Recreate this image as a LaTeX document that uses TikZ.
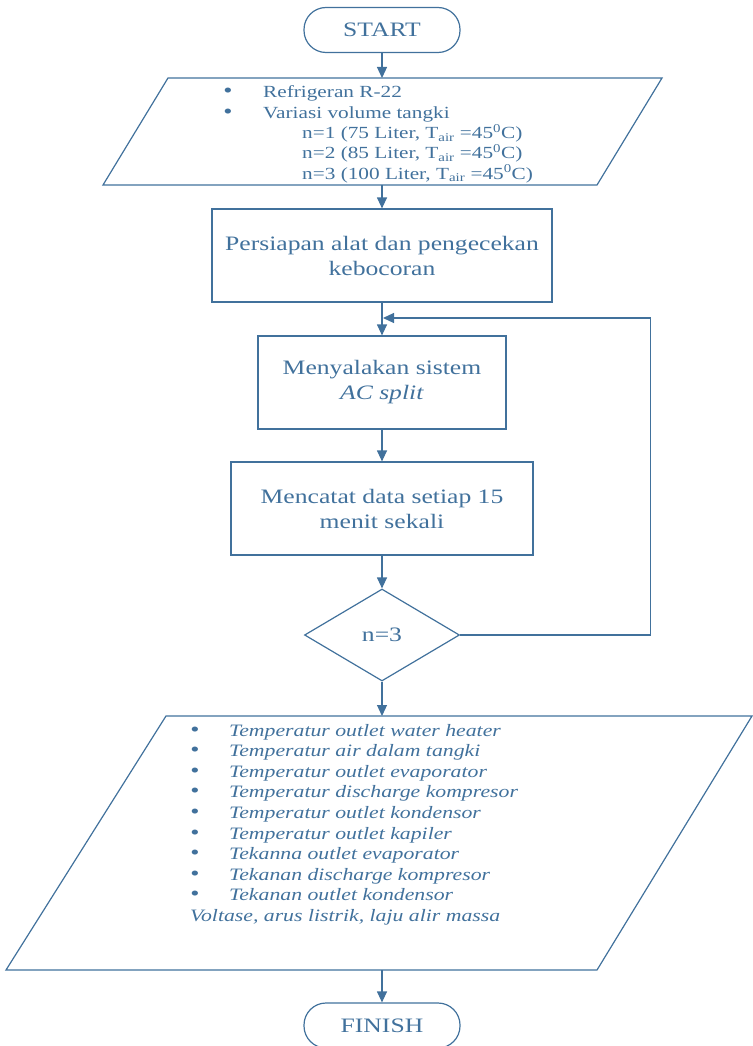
\documentclass[tikz,border=0pt]{standalone}
\usepackage{fontspec}
\setmainfont{Liberation Serif}[FakeStretch=1.25]
\usetikzlibrary{arrows.meta,shapes.geometric}
\definecolor{fc}{RGB}{65,113,156}
\begin{document}
\begin{tikzpicture}[x=1pt,y=-1pt,
  line/.style={draw=fc,line width=1.2pt},
  flow/.style={draw=fc,line width=1.2pt,-{Triangle[length=11pt,width=10pt]}},
  term/.style={line,rounded corners=22pt,minimum width=156pt,minimum height=45pt,inner sep=0pt,text=fc,font=\fontsize{20.5}{24}\selectfont},
  proc/.style={line,minimum height=93pt,inner sep=0pt,text=fc,align=center,font=\fontsize{20.5}{25}\selectfont},
  anchorbox/.style={inner sep=0pt,outer sep=0pt,minimum width=200pt},
  ptext/.style={text=fc,inner sep=0pt,anchor=base west,font=\fontsize{17}{20}\selectfont},
  pbul/.style={text=fc,inner sep=0pt,anchor=base,font=\fontsize{21}{20}\selectfont},
  itext/.style={ptext,font=\fontsize{17.4}{20}\selectfont\itshape}
]
\useasboundingbox (0,0) rectangle (752,1046);

% START
\node[term] (start) at (382,30) {START};

% input parallelogram 1
\node[anchorbox,minimum height=107pt] (p1) at (382,131.5) {};
\draw[line] (103,185) -- (168,78) -- (662,78) -- (597,185) -- cycle;
\node[pbul] (p1b1) at (228,98) {\textbullet};
\node[ptext] (p1t1) at (263,98) {Refrigeran R-22};
\node[pbul] (p1b2) at (228,118.3) {\textbullet};
\node[ptext] (p1t2) at (263,118.3) {Variasi volume tangki};
\node[ptext] (p1t3) at (302,138.6) {n=1 (75 Liter, T\textsubscript{air} =45\textsuperscript{0}C)};
\node[ptext] (p1t4) at (302,158.9) {n=2 (85 Liter, T\textsubscript{air} =45\textsuperscript{0}C)};
\node[ptext] (p1t5) at (302,179.2) {n=3 (100 Liter, T\textsubscript{air} =45\textsuperscript{0}C)};

% process boxes
\node[proc,minimum width=340pt] (b1) at (382,255.5) {Persiapan alat dan pengecekan\\kebocoran};
\node[proc,minimum width=248pt] (b2) at (382,382.5) {Menyalakan sistem\\\textit{AC split}};
\node[proc,minimum width=302pt] (b3) at (382,508.5) {Mencatat data setiap 15\\menit sekali};

% decision
\node[line,diamond,minimum width=155pt,minimum height=92pt,inner sep=0pt,text=fc,font=\fontsize{20.5}{24}\selectfont] (dia) at (382,635) {n=3};

% output parallelogram 2
\node[anchorbox,minimum height=254pt] (p2) at (382,843) {};
\draw[line] (6,970) -- (166,716) -- (752,716) -- (597,970) -- cycle;
\foreach \t [count=\i] in {Temperatur outlet water heater,Temperatur air dalam tangki,Temperatur outlet evaporator,Temperatur discharge kompresor,Temperatur outlet kondensor,Temperatur outlet kapiler,Tekanna outlet evaporator,Tekanan discharge kompresor,Tekanan outlet kondensor}{
  \node[pbul] (p2b\i) at (195,{736+20.6*(\i-1)}) {\textbullet};
  \node[itext] (p2t\i) at (229,{736+20.6*(\i-1)}) {\t};
}
\node[itext] (p2t10) at (190,921.4) {Voltase, arus listrik, laju alir massa};

% FINISH
\node[term] (finish) at (382,1025.5) {FINISH};

% connectors
\draw[flow] (start.south) -- (p1.north);
\draw[flow] (p1.south) -- (b1.north);
\draw[flow] (b1.south) -- (b2.north);
\draw[flow] (b2.south) -- (b3.north);
\draw[flow] (b3.south) -- (dia.north);
\draw[flow] (dia.south) -- (p2.north);
\draw[flow] (p2.south) -- (finish.north);
\coordinate (loopend) at (383,318);
\draw[flow] (dia.east) -- ++(190,0) |- (loopend);
\end{tikzpicture}
\end{document}
